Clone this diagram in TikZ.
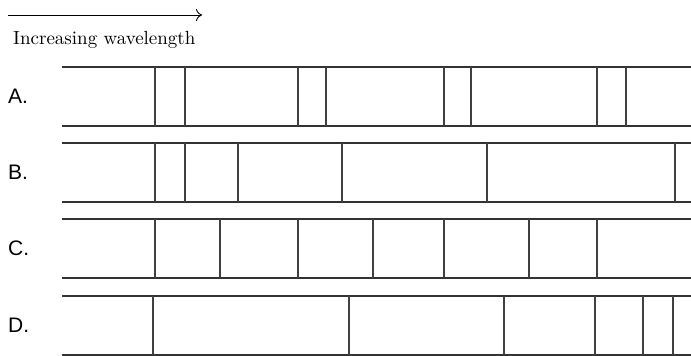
\documentclass[tikz,border=0pt]{standalone}
\usepackage{fontspec}
\usetikzlibrary{arrows.meta}
\newfontfamily\labelfont{Liberation Sans}
\begin{document}
\begin{tikzpicture}[x=1pt, y=-1pt]

        % Frame
        \useasboundingbox (0,0) rectangle (691,356);

        % Arrow
        \draw[-{To[length=6pt, width=12pt]}, line width=0.9pt] (8,15) -- (202,15);
        \node[anchor=base west, inner sep=0pt] (wavelength) at (13,44) {\scalebox{1.9}{Increasing wavelength}};

        % Spectra
        \foreach \lab/\ytop/\xs in {A/67/{155,185,298,326,444,471,597,626},
                                    B/143/{155,185,238,342,487,675},
                                    C/219/{155,220,298,373,444,529,597},
                                    D/296/{153,349,504,595,643,673}} {
            \node[anchor=base west, inner sep=0pt] (\lab) at (8,\ytop+36) {\labelfont\fontsize{21}{24}\selectfont \lab.};
            \draw[black!80, line width=1.3pt] (62,\ytop) -- (691,\ytop);
            \draw[black!80, line width=1.3pt] (62,\ytop+59) -- (691,\ytop+59);
            \foreach \x in \xs {
                \draw[black!75, line width=1.3pt] (\x,\ytop) -- (\x,\ytop+59);
            }
        }

    \end{tikzpicture}
\end{document}
